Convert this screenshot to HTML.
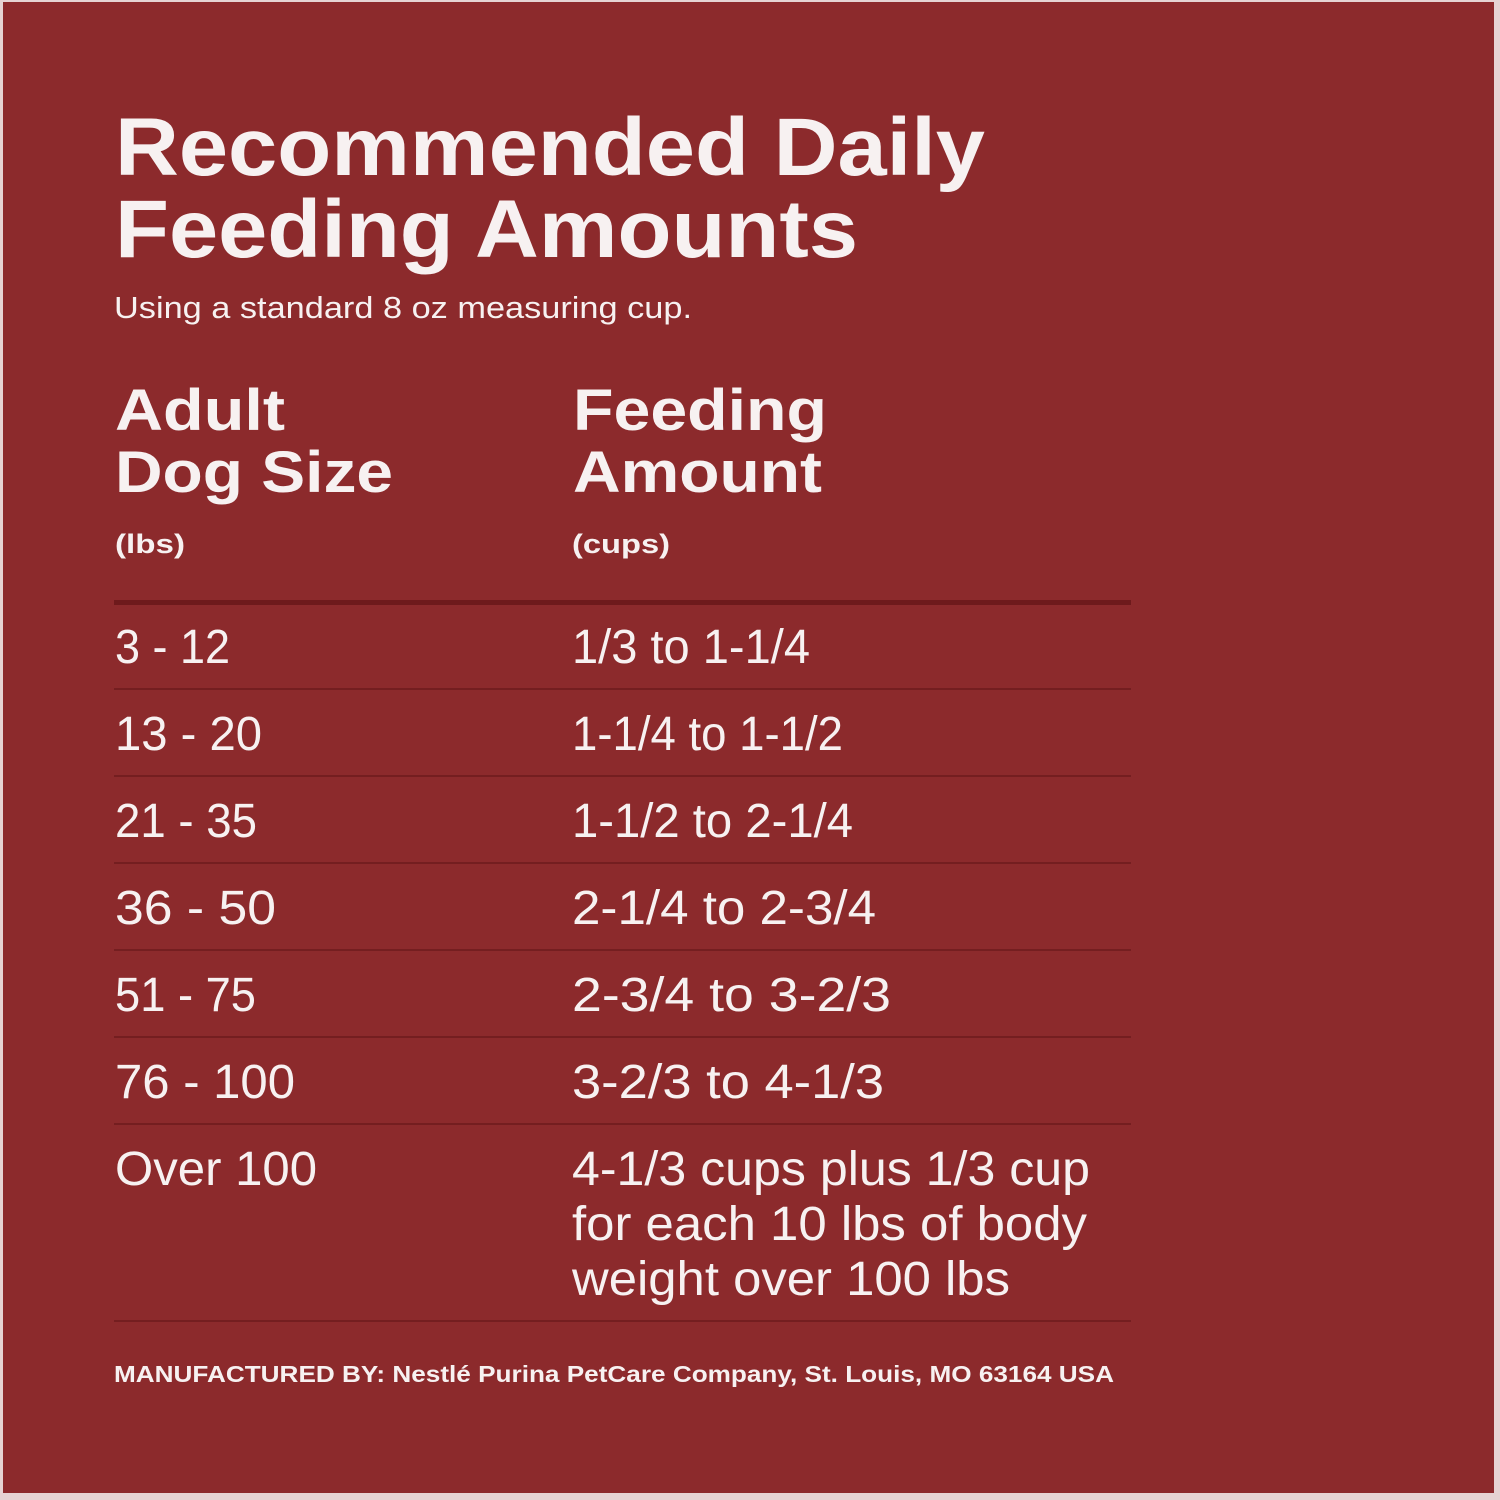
<!DOCTYPE html>
<html><head><meta charset="utf-8"><style>
html,body{margin:0;padding:0;background:#e8d6d6;}
svg{display:block}
text{font-family:"Liberation Sans",sans-serif;fill:#f7f1f1}
.b{font-weight:bold}
</style></head><body>
<svg width="1500" height="1500" viewBox="0 0 1500 1500" xmlns="http://www.w3.org/2000/svg">
<rect x="0" y="0" width="1500" height="1500" fill="#e6d3d3"/>
<rect x="3" y="2" width="1491" height="1491" fill="#8c2a2c"/>
<text class="b" x="115" y="175" font-size="82" textLength="870" lengthAdjust="spacingAndGlyphs">Recommended Daily</text>
<text class="b" x="115" y="257" font-size="82" textLength="743" lengthAdjust="spacingAndGlyphs">Feeding Amounts</text>
<text x="114" y="318" font-size="31" textLength="578" lengthAdjust="spacingAndGlyphs">Using a standard 8 oz measuring cup.</text>
<text class="b" x="115" y="430" font-size="58" textLength="170" lengthAdjust="spacingAndGlyphs">Adult</text>
<text class="b" x="115" y="492" font-size="58" textLength="278" lengthAdjust="spacingAndGlyphs">Dog Size</text>
<text class="b" x="573" y="430" font-size="58" textLength="254" lengthAdjust="spacingAndGlyphs">Feeding</text>
<text class="b" x="573" y="492" font-size="58" textLength="249" lengthAdjust="spacingAndGlyphs">Amount</text>
<text class="b" x="115" y="553" font-size="27" textLength="70" lengthAdjust="spacingAndGlyphs">(lbs)</text>
<text class="b" x="572" y="553" font-size="27" textLength="98" lengthAdjust="spacingAndGlyphs">(cups)</text>
<rect x="114" y="600" width="1017" height="5" fill="#6e1a1c"/>
<g fill="#741e20">
<rect x="114" y="688" width="1017" height="2"/>
<rect x="114" y="775" width="1017" height="2"/>
<rect x="114" y="862" width="1017" height="2"/>
<rect x="114" y="949" width="1017" height="2"/>
<rect x="114" y="1036" width="1017" height="2"/>
<rect x="114" y="1123" width="1017" height="2"/>
<rect x="114" y="1320" width="1017" height="2"/>
</g>
<g font-size="48">
<text x="115" y="663" textLength="115" lengthAdjust="spacingAndGlyphs">3 - 12</text>
<text x="572" y="663" textLength="238" lengthAdjust="spacingAndGlyphs">1/3 to 1-1/4</text>
<text x="115" y="750" textLength="147" lengthAdjust="spacingAndGlyphs">13 - 20</text>
<text x="572" y="750" textLength="271" lengthAdjust="spacingAndGlyphs">1-1/4 to 1-1/2</text>
<text x="115" y="837" textLength="142" lengthAdjust="spacingAndGlyphs">21 - 35</text>
<text x="572" y="837" textLength="281" lengthAdjust="spacingAndGlyphs">1-1/2 to 2-1/4</text>
<text x="115" y="924" textLength="161" lengthAdjust="spacingAndGlyphs">36 - 50</text>
<text x="572" y="924" textLength="304" lengthAdjust="spacingAndGlyphs">2-1/4 to 2-3/4</text>
<text x="115" y="1011" textLength="141" lengthAdjust="spacingAndGlyphs">51 - 75</text>
<text x="572" y="1011" textLength="319" lengthAdjust="spacingAndGlyphs">2-3/4 to 3-2/3</text>
<text x="115" y="1098" textLength="180" lengthAdjust="spacingAndGlyphs">76 - 100</text>
<text x="572" y="1098" textLength="312" lengthAdjust="spacingAndGlyphs">3-2/3 to 4-1/3</text>
<text x="115" y="1185" textLength="202" lengthAdjust="spacingAndGlyphs">Over 100</text>
<text x="572" y="1185" textLength="518" lengthAdjust="spacingAndGlyphs">4-1/3 cups plus 1/3 cup</text>
<text x="572" y="1240" textLength="515" lengthAdjust="spacingAndGlyphs">for each 10 lbs of body</text>
<text x="572" y="1295" textLength="438" lengthAdjust="spacingAndGlyphs">weight over 100 lbs</text>
</g>
<text class="b" x="114" y="1382" font-size="23" textLength="1000" lengthAdjust="spacingAndGlyphs">MANUFACTURED BY: Nestlé Purina PetCare Company, St. Louis, MO 63164 USA</text>
</svg>
</body></html>
